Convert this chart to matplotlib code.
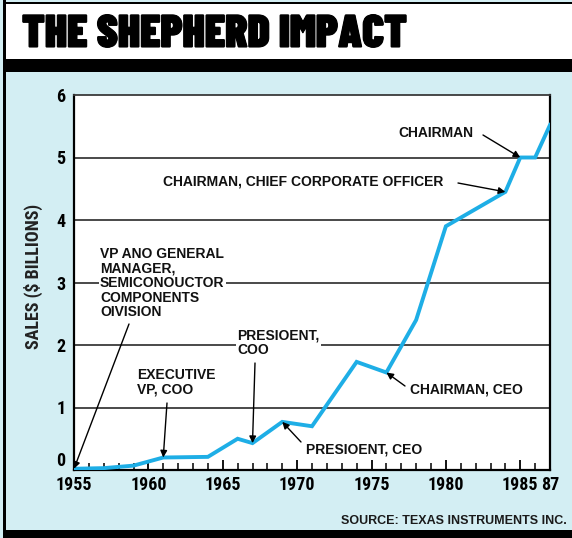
import matplotlib
matplotlib.use("Agg")
import matplotlib.pyplot as plt
from matplotlib.patches import Rectangle
import matplotlib.patheffects as pe

# ---- data ----
years = [1955, 1957, 1959, 1961, 1964, 1966, 1967, 1969, 1971, 1974, 1976, 1978, 1980, 1984, 1985, 1986, 1987]
sales = [0.02, 0.03, 0.07, 0.20, 0.21, 0.50, 0.43, 0.77, 0.70, 1.73, 1.56, 2.40, 3.90, 4.45, 5.00, 5.00, 5.52]
xtick_pos = [1955, 1960, 1965, 1970, 1975, 1980, 1985, 1987]
xtick_labels = ["1955", "1960", "1965", "1970", "1975", "1980", "1985", "87"]
ytick_pos = [0, 1, 2, 3, 4, 5, 6]
ytick_labels = ["0", "1", "2", "3", "4", "5", "6"]

title = "THE SHEPHERD IMPACT"
ylabel = "SALES ($ BILLIONS)"
source = "SOURCE: TEXAS INSTRUMENTS INC."

# annotations: (text, year pointed at)
ann_vp = ("VP ANO GENERAL\nMANAGER,\nSEMICONOUCTOR\nCOMPONENTS\nOIVISION", 1955)
ann_evp = ("EXECUTIVE\nVP, COO", 1961)
ann_pcoo = ("PRESIOENT,\nCOO", 1967)
ann_pceo = ("PRESIOENT, CEO", 1969)
ann_cceo = ("CHAIRMAN, CEO", 1976)
ann_ccco = ("CHAIRMAN, CHIEF CORPORATE OFFICER", 1984)
ann_ch = ("CHAIRMAN", 1985)

W, H = 572, 538
fig = plt.figure(figsize=(W / 100, H / 100), dpi=100)
bg = "#d3eef3"
fig.patch.set_facecolor(bg)

def fx(px):
    return px / W

def fy(py):
    return (H - py) / H

# frame pieces
fig.add_artist(Rectangle((fx(4), fy(60)), fx(W) - fx(4), fy(4) - fy(60), transform=fig.transFigure,
                         facecolor="white", edgecolor="none", zorder=0))
fig.add_artist(Rectangle((fx(3), fy(72)), 1 - fx(3), fy(59) - fy(72), transform=fig.transFigure,
                         facecolor="black", edgecolor="none", zorder=1))
fig.add_artist(Rectangle((fx(3), fy(538)), fx(3), 1, transform=fig.transFigure,
                         facecolor="black", edgecolor="none", zorder=1))
fig.add_artist(Rectangle((fx(3), fy(4)), 1 - fx(3), fy(2) - fy(4), transform=fig.transFigure,
                         facecolor="black", edgecolor="none", zorder=1))
fig.add_artist(Rectangle((fx(3), 0), 1 - fx(3), fy(530), transform=fig.transFigure,
                         facecolor="black", edgecolor="none", zorder=1))

cond = ["Barlow Condensed", "Roboto Condensed", "DejaVu Sans"]
fig.text(fx(22), fy(35), title, ha="left", va="center", fontsize=33,
         family=cond, weight="black", color="black",
         path_effects=[pe.withStroke(linewidth=0.8, foreground="black")])

fig.text(fx(567), fy(521), source, ha="right", va="center", fontsize=9,
         family=["Liberation Sans", "DejaVu Sans"], weight="bold", color="#1a1a1a")

ax = fig.add_axes([fx(74), fy(470), fx(550) - fx(74), fy(95) - fy(470)])
ax.set_facecolor("white")
ax.set_xlim(1955, 1987)
ax.set_ylim(0, 6)

for y in [1, 2, 3, 4, 5]:
    ax.axhline(y, color="#3a3a3a", lw=1.3, zorder=1)

ax.plot(years, sales, color="#1eaee6", lw=2.8, solid_joinstyle="miter", zorder=3)

for s in ax.spines.values():
    s.set_color("black")
    s.set_linewidth(1.6)
ax.spines["top"].set_color("#3a3a3a")
ax.spines["top"].set_linewidth(1.3)

tickfont = dict(family=["Roboto Condensed", "Barlow Condensed", "DejaVu Sans"], weight="bold", size=13)
ax.set_xticks(xtick_pos)
ax.set_xticklabels(xtick_labels, **tickfont)
ax.set_xticks(list(range(1955, 1988)), minor=True)
ax.set_yticks(ytick_pos)
ax.set_yticklabels(ytick_labels, **tickfont)
ax.get_yticklabels()[0].set_va("bottom")
ax.tick_params(axis="x", which="major", direction="in", length=7, width=1.3, pad=4, color="black")
ax.tick_params(axis="x", which="minor", direction="in", length=5, width=1.1, color="black")
ax.tick_params(axis="y", which="major", length=0, pad=6)

ax.set_ylabel(ylabel, family=["Roboto Condensed", "DejaVu Sans"],
              weight="bold", size=13, color="#222222")
ax.yaxis.set_label_coords(-0.066, 0.515)

def yr(px):
    return 1955 + (px - 74) / 14.875

def val(py):
    return (470 - py) / 62.5

def value_at(year):
    return sales[years.index(year)]

afont = dict(family=["Liberation Sans", "DejaVu Sans"], weight="bold", size=10, color="#111111")
wbox = dict(facecolor="white", edgecolor="none", pad=1.0)
arrow = dict(arrowstyle="-|>", color="black", lw=1.0, mutation_scale=10, shrinkA=0, shrinkB=0)

def note(text, tx, ty, va, tail, year, box=False):
    ax.text(yr(tx), val(ty), text, ha="left", va=va, linespacing=1.05,
            bbox=wbox if box else None, zorder=4, **afont)
    ax.annotate("", xy=(year, value_at(year)), xytext=(yr(tail[0]), val(tail[1])),
                arrowprops=arrow, zorder=5)

note(ann_vp[0], 100, 247, "top", (129, 324), ann_vp[1], box=True)
note(ann_evp[0], 137, 368, "top", (167, 403), ann_evp[1])
note(ann_pcoo[0], 237, 328, "top", (255, 363), ann_pcoo[1], box=True)
note(ann_pceo[0], 306, 449, "center", (301, 442), ann_pceo[1])
note(ann_cceo[0], 410, 390, "center", (405, 386), ann_cceo[1])
note(ann_ccco[0], 163, 182, "center", (458, 183), ann_ccco[1])
note(ann_ch[0], 398, 133, "center", (483, 135), ann_ch[1])

fig.savefig("out.png", dpi=100, facecolor=fig.get_facecolor())
